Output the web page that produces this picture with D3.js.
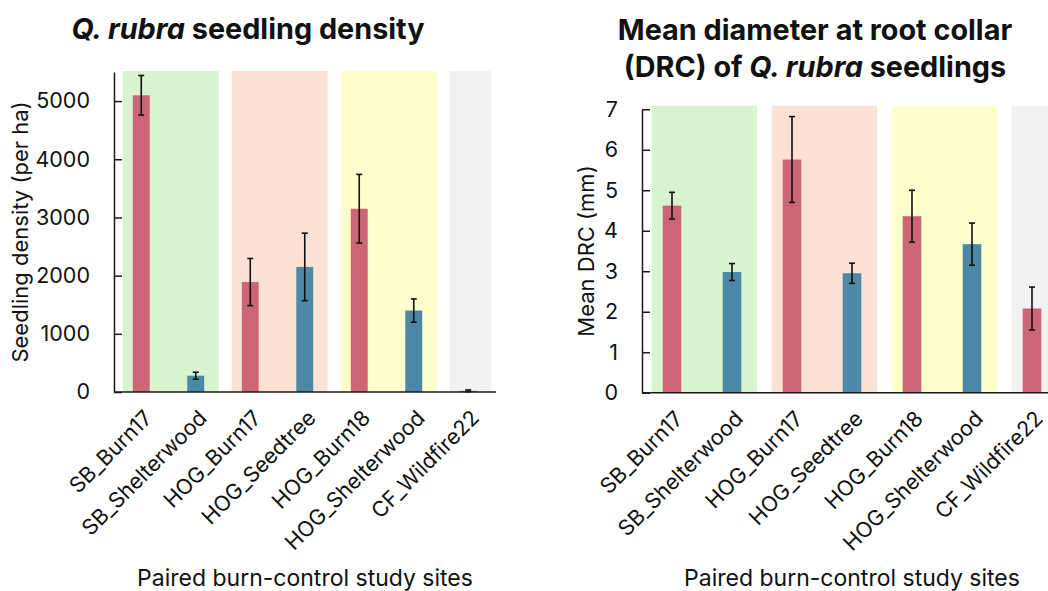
<!DOCTYPE html>
<html>
<head>
<meta charset="utf-8">
<script src="https://cdn.jsdelivr.net/npm/d3@7"></script>
<style>
  html, body { margin: 0; padding: 0; background: #fff; }
  svg { display: block; font-family: Inter, "Open Sans", sans-serif; }
</style>
</head>
<body>
<svg id="fig" width="1048" height="591"></svg>
<script>
// Study sites (paired burn / control)
const sites = ["SB_Burn17", "SB_Shelterwood", "HOG_Burn17", "HOG_Seedtree",
               "HOG_Burn18", "HOG_Shelterwood", "CF_Wildfire22"];

// Treatment of each site: burn or control
const densityTreatment = ["burn", "control", "burn", "control", "burn", "control", "control"];
const drcTreatment     = ["burn", "control", "burn", "control", "burn", "control", "burn"];

// Seedling density (per ha) and its error
const densityMean = [5100, 280, 1890, 2150, 3150, 1400, 20];
const densityErr  = [340, 60, 405, 580, 590, 200, 15];

// Mean diameter at root collar (mm) and its error
const drcMean = [4.62, 2.98, 5.76, 2.95, 4.36, 3.67, 2.08];
const drcErr  = [0.33, 0.21, 1.06, 0.25, 0.64, 0.52, 0.53];

// Y-axis ticks
const densityTicks = [0, 1000, 2000, 3000, 4000, 5000];
const drcTicks = [0, 1, 2, 3, 4, 5, 6, 7];

// Site pairs shaded behind the bars
const pairs = [
  { from: 0, to: 1, fill: "#d9f2d0" },
  { from: 2, to: 3, fill: "#fbe2d5" },
  { from: 4, to: 5, fill: "#fefecc" },
  { from: 6, to: 6, fill: "#f2f2f2" }
];

const colors = { burn: "#cc6677", control: "#4d88a6" };
const svg = d3.select("#fig");

function panel(cfg) {
  const g = svg.append("g");
  const x = d3.scaleBand().domain(sites)
    .range([cfg.x0, cfg.x1]).paddingInner(0.69).paddingOuter(0.345);
  const y = d3.scaleLinear().domain(cfg.yDomain).range([cfg.yBottom, cfg.yTop]);
  const step = x.step();

  // shaded pair backgrounds
  g.append("g").selectAll("rect").data(pairs).join("rect")
    .attr("x", d => cfg.x0 + step * (d.from + 0.16))
    .attr("width", d => Math.min(cfg.clipRight, cfg.x0 + step * (d.to + 0.92)) - (cfg.x0 + step * (d.from + 0.16)))
    .attr("y", y(cfg.yDomain[1]) - cfg.bandOver)
    .attr("height", cfg.yBottom - y(cfg.yDomain[1]) + cfg.bandOver)
    .attr("fill", d => d.fill);

  // bars
  g.append("g").selectAll("rect").data(sites).join("rect")
    .attr("x", d => x(d))
    .attr("width", x.bandwidth())
    .attr("y", (d, i) => y(cfg.mean[i]))
    .attr("height", (d, i) => y(0) - y(cfg.mean[i]))
    .attr("fill", (d, i) => colors[cfg.treatment[i]]);

  // error bars
  const eb = g.append("g").attr("stroke", "#111").attr("stroke-width", 1.6);
  sites.forEach((s, i) => {
    const cx = x(s) + x.bandwidth() / 2;
    const hi = y(cfg.mean[i] + cfg.err[i]);
    const lo = y(Math.max(0, cfg.mean[i] - cfg.err[i]));
    eb.append("line").attr("x1", cx).attr("x2", cx).attr("y1", hi).attr("y2", lo);
    eb.append("line").attr("x1", cx - 3).attr("x2", cx + 3).attr("y1", hi).attr("y2", hi);
    eb.append("line").attr("x1", cx - 3).attr("x2", cx + 3).attr("y1", lo).attr("y2", lo);
  });

  // y axis
  const ya = g.append("g").attr("transform", `translate(${cfg.x0},0)`)
    .call(d3.axisLeft(y).tickValues(cfg.ticks).tickFormat(d3.format("d"))
      .tickSize(-8).tickPadding(24).tickSizeOuter(0));
  ya.select(".domain").attr("stroke", "#1a1a1a").attr("stroke-width", 1.5);
  ya.selectAll(".tick line").attr("stroke", "#1a1a1a").attr("stroke-width", 1.5);
  ya.selectAll(".tick text").attr("font-size", 21.5).attr("fill", "#111")
    .attr("font-family", "Inter, sans-serif");

  // x axis
  const xa = g.append("g").attr("transform", `translate(0,${cfg.yBottom})`)
    .call(d3.axisBottom(x).tickSize(0).tickSizeOuter(0));
  xa.select(".domain").attr("stroke", "#1a1a1a").attr("stroke-width", 1.5)
    .attr("d", `M${cfg.x0},0H${cfg.axisRight}`);
  xa.selectAll(".tick text")
    .attr("font-size", 21.5).attr("fill", "#111").attr("font-family", "Inter, sans-serif")
    .attr("text-anchor", "end")
    .attr("transform", "translate(7,22) rotate(-45)")
    .attr("dy", "0.35em").attr("y", 0);

  // axis titles
  g.append("text")
    .attr("transform", `translate(${cfg.yLabelX},${cfg.yLabelY}) rotate(-90)`)
    .attr("text-anchor", "middle").attr("font-size", 22).attr("fill", "#111")
    .text(cfg.yLabel);
  g.append("text")
    .attr("x", cfg.xLabelX).attr("y", 586)
    .attr("text-anchor", "middle").attr("font-size", 23).attr("fill", "#111")
    .text("Paired burn-control study sites");

  // title lines, with italic species name
  cfg.title.forEach((line, li) => {
    const t = g.append("text")
      .attr("x", cfg.titleX).attr("y", cfg.titleY + li * 37)
      .attr("text-anchor", "middle").attr("font-size", 28.8).attr("font-weight", 700)
      .attr("fill", "#111");
    line.forEach(part => t.append("tspan")
      .attr("font-style", part.italic ? "italic" : "normal").text(part.text));
  });
}

panel({
  x0: 114, x1: 495.5, clipRight: 494, axisRight: 496,
  yBottom: 392, yTop: 72, yDomain: [0, 5500], bandOver: 1,
  ticks: densityTicks, mean: densityMean, err: densityErr, treatment: densityTreatment,
  yLabel: "Seedling density (per ha)", yLabelX: 28, yLabelY: 232,
  xLabelX: 305,
  title: [[{ text: "Q. rubra", italic: true }, { text: " seedling density" }]],
  titleX: 248, titleY: 38.5
});

panel({
  x0: 642, x1: 1062, clipRight: 1062, axisRight: 1062,
  yBottom: 392.7, yTop: 109.3, yDomain: [0, 7], bandOver: 3.5,
  ticks: drcTicks, mean: drcMean, err: drcErr, treatment: drcTreatment,
  yLabel: "Mean DRC (mm)", yLabelX: 594, yLabelY: 251,
  xLabelX: 852,
  title: [[{ text: "Mean diameter at root collar" }],
          [{ text: "(DRC) of " }, { text: "Q. rubra", italic: true }, { text: " seedlings" }]],
  titleX: 815, titleY: 40
});
</script>
</body>
</html>
